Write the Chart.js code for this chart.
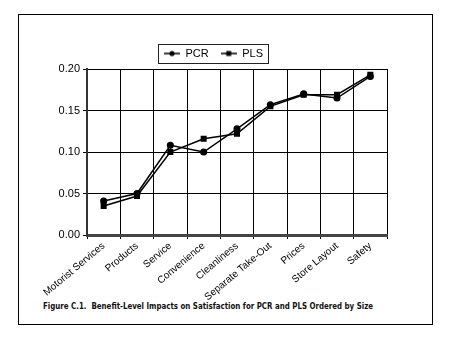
<!DOCTYPE html>
<html>
<head>
<meta charset="utf-8">
<script src="https://cdn.jsdelivr.net/npm/chart.js@4.4.1/dist/chart.umd.min.js"></script>
<style>
  html, body { margin: 0; padding: 0; background: #fff; }
  #frame {
    position: absolute; left: 18px; top: 14px; width: 413px; height: 309px;
    border: 1.5px solid #000;
  }
  #wrap { position: absolute; left: 40px; top: 24px; width: 393px; height: 276px; }
  #caption {
    position: absolute; left: 43px; top: 302px; white-space: nowrap;
    font-family: 'DejaVu Sans', sans-serif; font-weight: bold; font-size: 8px;
    color: #111; transform-origin: left top;
  }
</style>
</head>
<body>
<div id="frame"></div>
<div id="wrap"><canvas id="benefitChart"></canvas></div>
<div id="caption">Figure C.1.&nbsp; Benefit-Level Impacts on Satisfaction for PCR and PLS Ordered by Size</div>
<script>
// dados
const categories = ['Motorist Services', 'Products', 'Service', 'Convenience', 'Cleanliness',
                    'Separate Take-Out', 'Prices', 'Store Layout', 'Safety'];
const pcrValues = [0.041, 0.050, 0.108, 0.100, 0.128, 0.157, 0.170, 0.165, 0.191];
const plsValues = [0.035, 0.047, 0.100, 0.116, 0.122, 0.155, 0.169, 0.169, 0.193];
const yTicks = [0, 0.05, 0.10, 0.15, 0.20];

// ícone da legenda: linha com marcador
function legendIcon(kind) {
    const c = document.createElement('canvas');
    c.width = 16; c.height = 8;
    const g = c.getContext('2d');
    g.strokeStyle = '#000'; g.fillStyle = '#000'; g.lineWidth = 1.5;
    g.beginPath(); g.moveTo(0, 4); g.lineTo(16, 4); g.stroke();
    if (kind === 'circle') {
        g.beginPath(); g.arc(8, 4, 2.6, 0, Math.PI * 2); g.fill();
    } else {
        g.fillRect(5.5, 1.5, 5, 5);
    }
    return c;
}
const icons = [legendIcon('circle'), legendIcon('rect')];

// borda em volta da legenda
const legendBox = {
    id: 'legendBox',
    afterDraw(chart) {
        const boxes = chart.legend && chart.legend.legendHitBoxes;
        if (!boxes || !boxes.length) return;
        let x0 = Infinity, x1 = -Infinity, y0 = Infinity, y1 = -Infinity;
        boxes.forEach(b => {
            x0 = Math.min(x0, b.left); x1 = Math.max(x1, b.left + b.width);
            y0 = Math.min(y0, b.top); y1 = Math.max(y1, b.top + b.height);
        });
        const ctx = chart.ctx;
        ctx.save();
        ctx.strokeStyle = '#222';
        ctx.lineWidth = 1;
        ctx.strokeRect(Math.round(x0 - 6) + 0.5, Math.round(y0 - 4) + 0.5,
                       Math.round(x1 - x0 + 11), Math.round(y1 - y0 + 8));
        ctx.restore();
    }
};

const ctx = document.getElementById('benefitChart').getContext('2d');
new Chart(ctx, {
    type: 'line',
    data: {
        labels: categories,
        datasets: [{
            label: 'PCR',
            data: pcrValues,
            borderColor: '#000',
            backgroundColor: '#000',
            borderWidth: 1.5,
            pointStyle: 'circle',
            pointRadius: 2.8,
            tension: 0
        }, {
            label: 'PLS',
            data: plsValues,
            borderColor: '#000',
            backgroundColor: '#000',
            borderWidth: 1.5,
            pointStyle: 'rect',
            pointRadius: 3.2,
            tension: 0
        }]
    },
    options: {
        responsive: true,
        maintainAspectRatio: false,
        animation: false,
        layout: { padding: { top: 12, right: 46, bottom: 0, left: 0 } },
        plugins: {
            tooltip: { enabled: false },
            legend: {
                position: 'top',
                labels: {
                    usePointStyle: true,
                    pointStyleWidth: 16,
                    padding: 12,
                    color: '#000',
                    font: { family: "'Liberation Sans', Arial, sans-serif", size: 11 },
                    generateLabels: function(chart) {
                        const items = Chart.defaults.plugins.legend.labels.generateLabels(chart);
                        items.forEach((it, i) => { it.pointStyle = icons[i]; });
                        return items;
                    }
                }
            }
        },
        scales: {
            x: {
                offset: true,
                grid: { color: '#000', lineWidth: 1, offset: true, tickLength: 4 },
                border: { color: '#444', width: 3 },
                ticks: {
                    color: '#000',
                    minRotation: 40,
                    maxRotation: 40,
                    padding: 1,
                    font: { family: "'Liberation Sans', Arial, sans-serif", size: 10 }
                },
                afterFit: function(scale) { scale.height = 65; }
            },
            y: {
                min: 0,
                max: 0.20,
                afterBuildTicks: function(scale) {
                    scale.ticks = yTicks.map(v => ({ value: v }));
                },
                grid: { color: '#000', lineWidth: 1, tickLength: 4 },
                border: { color: '#333', width: 2 },
                ticks: {
                    color: '#000',
                    padding: 3,
                    font: { family: "'Liberation Sans', Arial, sans-serif", size: 11 },
                    callback: function(value) { return Number(value).toFixed(2); }
                },
                afterFit: function(scale) { scale.width = 47; }
            }
        }
    },
    plugins: [legendBox]
});

// ajusta a legenda da figura à largura original
const cap = document.getElementById('caption');
cap.style.transform = 'scaleX(' + (330 / cap.offsetWidth) + ')';
</script>
</body>
</html>
